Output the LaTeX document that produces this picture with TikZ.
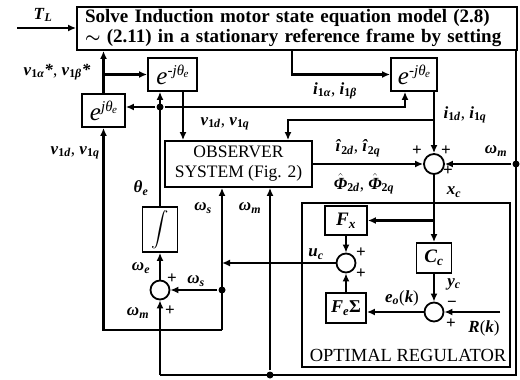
\documentclass[tikz,border=0pt]{standalone}
\usepackage{amsmath}
\usepackage[no-math]{fontspec}
\setmainfont{Liberation Serif}
\usetikzlibrary{arrows.meta}
\newcommand{\bi}[1]{\textbf{\textit{#1}}}
\newcommand{\sbs}[1]{\textsubscript{#1}}
\newcommand{\hatt}[1]{\ensuremath{\hat{\text{#1}}}}
\newcommand{\expo}[1]{{\fontsize{25}{25}\selectfont\textit{e}}\raisebox{9pt}{\fontsize{15}{15}\selectfont\textit{#1jθ}\kern-0.5pt\raisebox{-2pt}{\fontsize{11}{11}\selectfont\textit{e}}}}
\begin{document}
\begin{tikzpicture}[x=1pt,y=-1pt, line width=2.1pt,
  >={Latex[length=8pt,width=7pt]},
  blk/.style={draw, line width=1.8pt, inner sep=0pt, fill=white},
  sumc/.style={circle, draw, line width=1.8pt, minimum size=20pt, inner sep=0pt, fill=white},
  dotn/.style={circle, fill, inner sep=0pt, minimum size=7pt},
  lbl/.style={inner sep=0.5pt, font=\fontsize{17}{17}\selectfont},
  thin line/.style={line width=1.5pt}]
\useasboundingbox (0,0) rectangle (520,380);
\fill[white] (0,0) rectangle (520,380);

% blocks
\node[draw, line width=1.8pt, minimum width=208pt, minimum height=164pt, inner sep=0pt] (reg) at (406,285) {};
\node[blk, text width=424pt, inner xsep=8pt, minimum height=43pt, align=left,
  font=\fontsize{19}{20}\selectfont\bfseries] (top) at (297,28.5)
  {Solve Induction motor state equation model (2.8)\\ $\boldsymbol{\sim}$ (2.11) in a stationary reference frame by setting};
\node[blk, minimum width=43pt, minimum height=33pt] (ejp) at (103.5,110.5) {\expo{}};
\node[blk, minimum width=49pt, minimum height=33pt] (ejm1) at (172.5,74.5) {\expo{-}};
\node[blk, minimum width=46pt, minimum height=33pt] (ejm2) at (414,74.5) {\expo{-}};
\node[blk, minimum width=147pt, minimum height=46pt, align=center,
  font=\fontsize{17.5}{20}\selectfont] (obs) at (238.5,164) {OBSERVER\\SYSTEM (Fig. 2)};
\node[blk, minimum width=35pt, minimum height=45pt, font=\fontsize{16}{16}\selectfont] (integ) at (160,229.5) {$\displaystyle\int$};
\node[blk, minimum width=42pt, minimum height=29pt, font=\fontsize{19}{19}\selectfont] (Fx) at (346,220.5) {\bi{F}\sbs{\bi{x}}};
\node[blk, minimum width=35pt, minimum height=30pt, font=\fontsize{19}{19}\selectfont] (Cc) at (434,258) {\bi{C}\sbs{\bi{c}}};
\node[blk, minimum width=40pt, minimum height=30pt, font=\fontsize{18}{18}\selectfont] (Fe) at (346,308) {\bi{F}\sbs{\bi{e}}\textbf{Σ}};
\node[sumc] (bigsum) at (434,164) {};
\node[sumc, minimum size=19pt] (usum) at (346,263) {};
\node[sumc, minimum size=19pt] (esum) at (434,312) {};
\node[sumc, minimum size=19pt] (lsum) at (160,290) {};
\node[dotn] (thdot) at (160,107) {};
\node[dotn] (wmdot) at (516,164) {};
\node[dotn] (bdot) at (270,375) {};
\node[dotn] (wsdot) at (222,290) {};

% coordinates
\coordinate (tlin) at (17,28);
\coordinate (thr) at (405,107);
\coordinate (iab) at (292,50);
\coordinate (i1br) at (434,120);
\coordinate (i1c) at (288,120);
\coordinate (v1out) at (183,91);
\coordinate (wmtop) at (516,50);
\coordinate (cbr) at (516,375);
\coordinate (cbl) at (160,375);
\coordinate (xbr) at (434,220.5);
\coordinate (rin) at (500,312);
\coordinate (wsl) at (222,330);

% connectors
\draw[->] (tlin) -- (tlin -| top.west);
\draw[->] (ejp.north) -- (ejp.north |- top.south);
\draw[->] (ejp.north |- ejm1.west) -- (ejm1.west);
\draw[->, thin line] (integ.north) -- (integ.north |- ejm1.south);
\draw[->, thin line] (thdot) -- (thdot -| ejp.east);
\draw[->, thin line] (thdot) -- (thr) -- (thr |- ejm2.south);
\draw[->] (iab) |- (ejm2.west);
\draw[->] (bigsum |- ejm2.south) -- (bigsum.north);
\draw[->] (i1br) -- (i1c) -- (i1c |- obs.north);
\draw[->] (v1out) -- (v1out |- obs.north);
\draw[->] (obs.east) -- (bigsum.west);
\draw[thin line] (wmtop) -- (cbr) -- (cbl);
\draw[->, thin line] (cbl) -- (lsum.south);
\draw[->] (wmdot) -- (bigsum.east);
\draw[->, thin line] (bdot) -- (bdot |- obs.south);
\draw[->] (bigsum.south) -- (Cc.north);
\draw[->] (xbr) -- (Fx.east);
\draw[->] (Fx.south) -- (usum.north);
\draw[->] (Cc.south) -- (esum.north);
\draw[->] (rin) -- (esum.east);
\draw[->] (esum.west) -- (esum.west -| Fe.east);
\draw[->] (Fe.north) -- (usum.south);
\draw[->, line width=2.8pt] (usum.west) -- (usum.west -| wsl);
\draw[->] (wsl) -- (wsl |- obs.south);
\draw[->, thin line] (wsdot) -- (lsum.east);
\draw[->] (wsl) -- (ejp.south |- wsl) -- (ejp.south);
\draw[->, thin line] (lsum.north) -- (integ.south);

% labels
\node[lbl] (lTL) at (43,15) {\bi{T}\sbs{\bi{L}}};
\node[lbl] (lvab) at (57,72) {\bi{v}\sbs{\textbf{1}\bi{α}}\bi{*}, \bi{v}\sbs{\textbf{1}\bi{β}}\bi{*}};
\node[lbl, anchor=east] (lvdq1) at (101,153) {\bi{v}\sbs{\textbf{1}\bi{d}}, \bi{v}\sbs{\textbf{1}\bi{q}}};
\node[lbl] (lvdq2) at (225,124) {\bi{v}\sbs{\textbf{1}\bi{d}}, \bi{v}\sbs{\textbf{1}\bi{q}}};
\node[lbl] (liab) at (335,91) {\bi{i}\sbs{\textbf{1}\bi{α}}, \bi{i}\sbs{\textbf{1}\bi{β}}};
\node[lbl] (lidq) at (465,115) {\bi{i}\sbs{\textbf{1}\bi{d}}, \bi{i}\sbs{\textbf{1}\bi{q}}};
\node[lbl] (lth) at (141,188) {\bi{θ}\sbs{\bi{e}}};
\node[lbl] (lws1) at (203,208) {\bi{ω}\sbs{\bi{s}}};
\node[lbl] (lwm1) at (250,208) {\bi{ω}\sbs{\bi{m}}};
\node[lbl] (li2) at (358,148) {\bi{î}\sbs{\textbf{2}\bi{d}}, \bi{î}\sbs{\textbf{2}\bi{q}}};
\node[lbl] (lphi) at (364,184) {\hatt{\bi{Φ}}\sbs{\textbf{2}\bi{d}}, \hatt{\bi{Φ}}\sbs{\textbf{2}\bi{q}}};
\node[lbl] (p1) at (417,151) {\textbf{+}};
\node[lbl] (p2) at (446,151) {\textbf{+}};
\node[lbl] (p3) at (448,171) {\textbf{+}};
\node[lbl] (lxc) at (454,192) {\bi{x}\sbs{\bi{c}}};
\node[lbl] (lwm2) at (496,151) {\bi{ω}\sbs{\bi{m}}};
\node[lbl] (luc) at (316,254) {\bi{u}\sbs{\bi{c}}};
\node[lbl] (p4) at (361,253) {\textbf{+}};
\node[lbl] (p5) at (361,274) {\textbf{+}};
\node[lbl] (lyc) at (454,284) {\bi{y}\sbs{\bi{c}}};
\node[lbl] (m1) at (452,304) {\textbf{−}};
\node[lbl] (p6) at (451,324) {\textbf{+}};
\node[lbl] (lR) at (484,328) {\bi{R}(\bi{k})};
\node[lbl] (leo) at (402,298) {\bi{e}\sbs{\bi{o}}(\bi{k})};
\node[lbl] (lwe) at (141,268) {\bi{ω}\sbs{\bi{e}}};
\node[lbl] (p7) at (172,279) {\textbf{+}};
\node[lbl] (p8) at (170,311) {\textbf{+}};
\node[lbl] (lws2) at (196,281) {\bi{ω}\sbs{\bi{s}}};
\node[lbl] (lwm3) at (138,313) {\bi{ω}\sbs{\bi{m}}};
\node[font=\fontsize{18.5}{18.5}\selectfont, inner sep=0pt] (lreg) at (408,355) {OPTIMAL REGULATOR};
\end{tikzpicture}
\end{document}
